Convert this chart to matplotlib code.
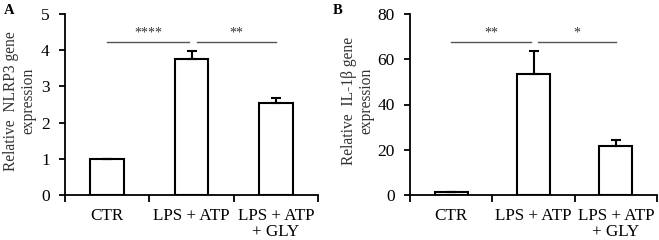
import matplotlib
matplotlib.use("Agg")
import matplotlib.pyplot as plt
import numpy as np

plt.rcParams['font.family'] = ['Liberation Serif', 'DejaVu Serif']

categories = ["CTR", "LPS + ATP", "LPS + ATP\n+ GLY"]
nlrp3_values = [1.0, 3.75, 2.55]
nlrp3_err = [0.0, 0.22, 0.13]
il1b_values = [1.3, 53.5, 21.8]
il1b_err = [0.0, 10.0, 2.3]
nlrp3_sig = [(0, 1, "****"), (1, 2, "**")]
il1b_sig = [(0, 1, "**"), (1, 2, "*")]

fig = plt.figure(figsize=(6.59, 2.40), dpi=100)
W, H = 659, 240

def make_ax(left, right, top, bottom):
    return fig.add_axes([left / W, 1 - bottom / H, (right - left) / W, (bottom - top) / H])

axA = make_ax(65, 318, 14, 195)
axB = make_ax(410, 657, 14, 195)

def draw(ax, values, errs, ymax, yticks, ylabel, sigs, sig_y, panel, panel_x, label_x):
    x = np.arange(len(categories))
    ax.bar(x, values, width=0.4, color='white', edgecolor='black', linewidth=1.5, zorder=2)
    ax.errorbar(x, values, yerr=[np.zeros(len(errs)), errs], fmt='none', ecolor='black',
                elinewidth=1.5, capsize=3.5, capthick=1.5, zorder=3)
    ax.set_xlim(-0.5, 2.5)
    ax.set_ylim(0, ymax)
    ax.set_yticks(yticks)
    ax.set_xticks(x)
    ax.set_xticklabels(categories, fontsize=12.3, linespacing=1.0)
    ax.tick_params(axis='x', length=0, pad=9)
    ax.set_xticks([-0.5, 0.5, 1.5, 2.5], minor=True)
    ax.tick_params(axis='x', which='minor', length=5, width=1.3, direction='out')
    ax.tick_params(axis='y', length=4, width=1.3, labelsize=12.5, pad=7)
    for s in ['top', 'right']:
        ax.spines[s].set_visible(False)
    for s in ['left', 'bottom']:
        ax.spines[s].set_linewidth(1.3)
    fig.text(label_x / W, 1 - 101 / H, ylabel, rotation=90, ha='center', va='center',
             multialignment='center', fontsize=11.2, linespacing=1.1, color='#333333')
    for (a, b, txt) in sigs:
        xa = a + 0.0 if a == 0 else a + 0.06
        xb = b - 0.03 if a == 0 else b + 0.0
        ax.plot([xa, xb], [sig_y, sig_y], color='#555555', linewidth=1.0, clip_on=False)
        ax.text((xa + xb) / 2, sig_y + ymax * 0.015, txt, ha='center', va='bottom',
                fontsize=10, color='#333333')
    fig.text(panel_x / W, 0.985, panel, fontsize=10.5,
             fontweight='bold', va='top', ha='left')

draw(axA, nlrp3_values, nlrp3_err, 5, [0, 1, 2, 3, 4, 5],
     "Relative  NLRP3 gene\nexpression", nlrp3_sig, 4.23, "A", 4, 20)
draw(axB, il1b_values, il1b_err, 80, [0, 20, 40, 60, 80],
     "Relative  IL-1β gene\nexpression", il1b_sig, 67.6, "B", 333, 358)

fig.savefig("out.png", dpi=100)
